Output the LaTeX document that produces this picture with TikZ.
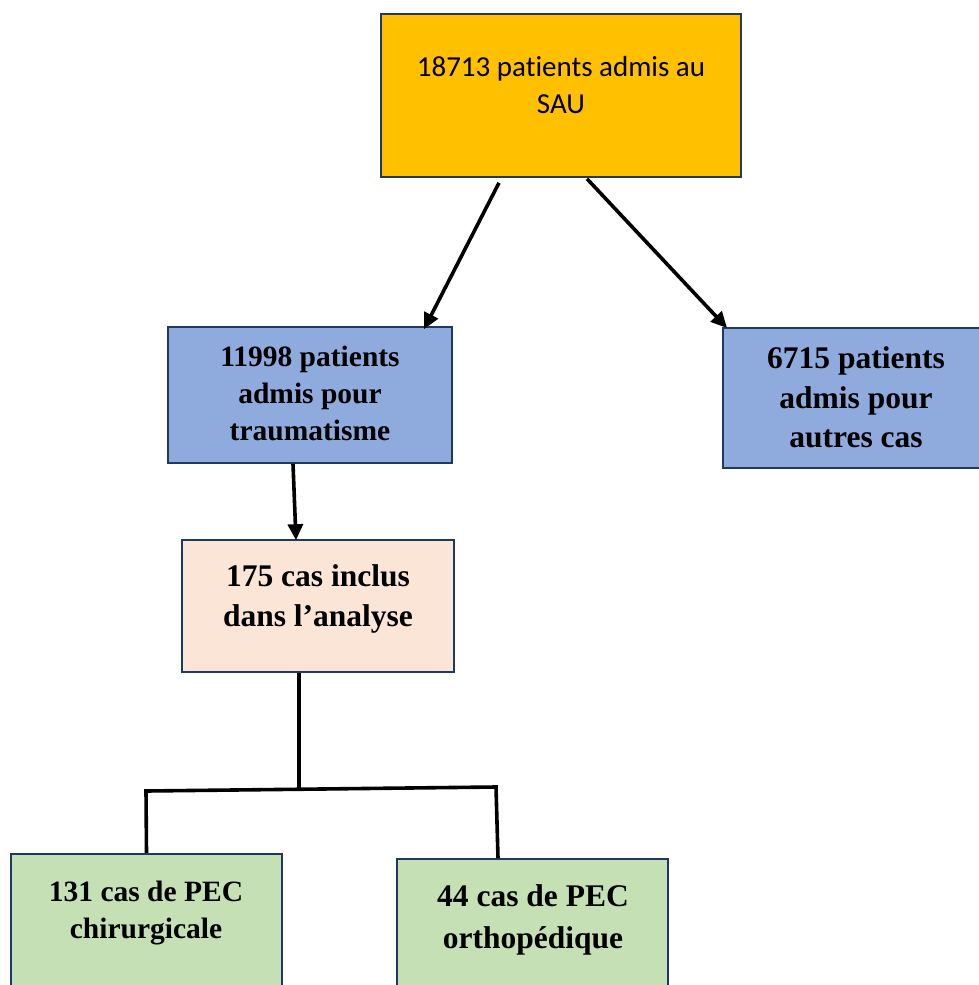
\documentclass[tikz,border=0pt]{standalone}
\usepackage{fontspec}
\setmainfont{Liberation Serif}
\newfontfamily\calfont[Ligatures=NoCommon]{Carlito}
\usetikzlibrary{arrows.meta}
\definecolor{cOrange}{HTML}{FFC000}
\definecolor{cBlue}{HTML}{8FAADC}
\definecolor{cPeach}{HTML}{FBE5D6}
\definecolor{cGreen}{HTML}{C5E0B4}
\definecolor{cBorder}{HTML}{203864}
\tikzset{
  boxst/.style={draw=cBorder, line width=1.6pt, rectangle, inner sep=0pt},
  lblA/.style={font=\calfont\fontsize{29}{37}\selectfont, align=center, inner sep=0pt},
  lblB/.style={font=\bfseries\fontsize{29.5}{37}\selectfont, align=center, inner sep=0pt},
  lblC/.style={font=\bfseries\fontsize{31.5}{39.5}\selectfont, align=center, inner sep=0pt},
  arr/.style={line width=3.6pt, -{Triangle[length=16pt,width=15pt]}},
  ln/.style={line width=3.6pt, line join=miter},
}
\begin{document}
\begin{tikzpicture}[x=1pt,y=-1pt]
\useasboundingbox (0,0) rectangle (979,985);
\clip (0,0) rectangle (979,985);
% boxes
\node[boxst, fill=cOrange, minimum width=360pt, minimum height=163pt] (top) at (561,95.5) {};
\node[boxst, fill=cBlue, minimum width=284pt, minimum height=136pt] (b1) at (310,395) {};
\node[boxst, fill=cBlue, minimum width=300pt, minimum height=140pt, anchor=north west] (b2) at (722,327) {};
\node[boxst, fill=cPeach, minimum width=272pt, minimum height=132pt] (b3) at (318,606) {};
\node[boxst, fill=cGreen, minimum width=271pt, minimum height=180pt, anchor=north] (b4) at (146.5,853) {};
\node[boxst, fill=cGreen, minimum width=271pt, minimum height=180pt, anchor=north] (b5) at (532.5,858) {};
% labels
\node[lblA] (t0) at (561,85) {18713 patients admis au\\SAU};
\node[lblB] (t1) at (310,393) {11998 patients\\admis pour\\traumatisme};
\node[lblC] (t2) at (856,397.5) {6715 patients\\admis pour\\autres cas};
\node[lblC, font=\bfseries\fontsize{31.5}{40.5}\selectfont] (t3) at (318,599) {175 cas inclus\\dans l’analyse};
\node[lblB] (t4) at (146,913.5) {131 cas de PEC\\chirurgicale};
\node[lblC, font=\bfseries\fontsize{31.5}{42}\selectfont] (t5) at (533,919.5) {44 cas de PEC\\orthopédique};
% connectors
\draw[arr] ([xshift=-62pt,yshift=-5pt]top.south) -- ([xshift=114pt,yshift=-3pt]b1.north);
\draw[arr] ([xshift=26pt,yshift=-1pt]top.south) -- ([xshift=5pt,yshift=-1pt]b2.north west);
\draw[arr] ([xshift=-17pt]b1.south) -- ([xshift=-22pt,yshift=-1pt]b3.north);
\coordinate (jn) at (299,789);
\coordinate (cl) at (146,791);
\coordinate (cr) at (496,787);
\draw[ln] ([xshift=-19pt]b3.south) -- (jn);
\draw[ln] (b4.north) -- (cl) -- (cr) -- ([xshift=-34.5pt]b5.north);
\end{tikzpicture}
\end{document}
